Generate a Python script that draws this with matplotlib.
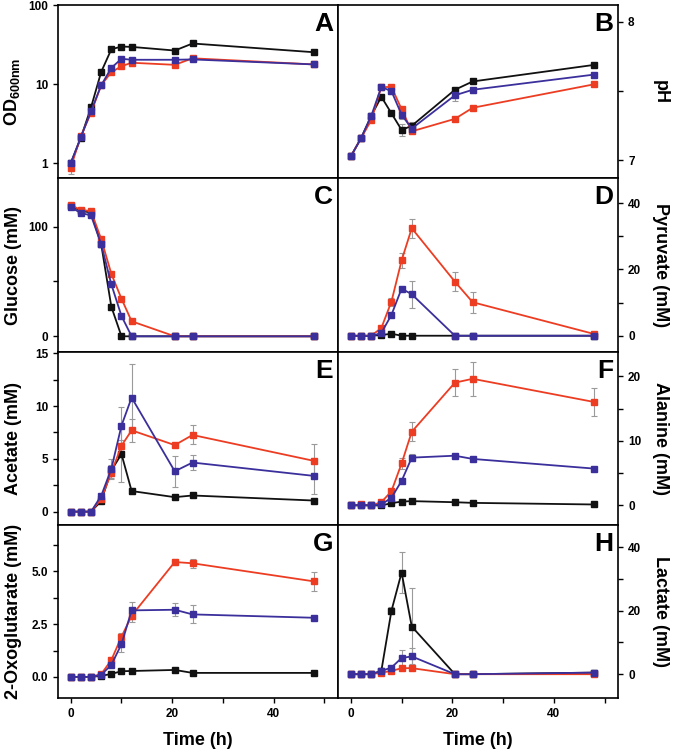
import numpy as np
import matplotlib
matplotlib.use('Agg')
import matplotlib.pyplot as plt
from matplotlib.ticker import NullLocator, FixedLocator

plt.rcParams['font.family'] = ['Liberation Sans', 'DejaVu Sans']
plt.rcParams['font.weight'] = 'bold'
plt.rcParams['axes.labelweight'] = 'bold'
plt.rcParams['mathtext.default'] = 'regular'

# sampling times (h)
time = [0, 2, 4, 6, 8, 10, 12, 20.5, 24, 48]

# A - OD600
od_black = [1.0, 2.1, 5.1, 14.3, 27.7, 30.0, 29.7, 26.7, 32.8, 25.4]
od_red = [0.88, 2.2, 4.35, 9.7, 14.2, 16.9, 18.7, 17.6, 21.3, 17.8]
od_blue = [1.0, 2.14, 4.56, 9.7, 16.1, 21.0, 20.4, 20.4, 20.6, 17.8]
od_err_red = [0.15, 0.1, 0.2, 0.5, 0.8, 0.8, 1.5, 0.8, 0.8, 0.5]

# B - pH
ph_black = [7.03, 7.16, 7.32, 7.46, 7.34, 7.22, 7.25, 7.51, 7.57, 7.69]
ph_red = [7.03, 7.16, 7.29, 7.53, 7.53, 7.37, 7.21, 7.30, 7.38, 7.55]
ph_blue = [7.03, 7.16, 7.32, 7.53, 7.50, 7.33, 7.23, 7.47, 7.51, 7.62]
ph_err_black = [0, 0, 0, 0, 0, 0.04, 0.03, 0, 0, 0]
ph_err_blue = [0, 0, 0, 0, 0.02, 0.03, 0.02, 0.04, 0.02, 0]

# C - glucose
glc_black = [118.8, 114.6, 112.8, 84.0, 27.0, 0, 0, 0, 0, 0]
glc_red = [119.8, 115.2, 114.3, 88.7, 57.0, 34.3, 13.7, 0, 0, 0]
glc_blue = [117.6, 112.5, 110.3, 84.0, 47.4, 18.5, 0, 0, 0, 0]

# D - pyruvate
pyr_black = [0, 0, 0, 0.2, 0.6, 0, 0, 0, 0, 0]
pyr_red = [0, 0, 0, 2.3, 10.3, 22.7, 32.4, 16.3, 10.1, 0.5]
pyr_blue = [0, -0.1, -0.1, 0.8, 6.3, 14.2, 12.5, 0, 0, 0]
pyr_err_red = [0, 0, 0, 0.3, 1.2, 2.2, 2.8, 2.9, 3.1, 0]
pyr_err_blue = [0, 0, 0, 0, 0.6, 0.6, 4.0, 0, 0, 0]

# E - acetate
ace_black = [0, 0, 0, 1.0, 3.9, 5.45, 1.95, 1.37, 1.53, 1.05]
ace_red = [0, 0, 0, 1.2, 3.7, 6.24, 7.7, 6.3, 7.26, 4.8]
ace_blue = [0, 0, 0, 1.5, 4.05, 8.15, 10.8, 3.82, 4.65, 3.38]
ace_err_black = [0, 0, 0, 0.1, 0.5, 2.6, 0.3, 0.1, 0.1, 0.1]
ace_err_red = [0, 0, 0, 0.1, 0.6, 0.5, 1.1, 0.2, 0.9, 1.6]
ace_err_blue = [0, 0, 0, 0.2, 0.9, 1.75, 3.2, 1.45, 0.7, 1.7]

# F - alanine
ala_black = [0, 0, 0, 0, 0.35, 0.6, 0.67, 0.5, 0.4, 0.15]
ala_red = [0, 0.15, 0, 0.5, 2.2, 6.5, 11.4, 19.0, 19.6, 16.0]
ala_blue = [0, 0.1, 0, 0.15, 1.2, 3.8, 7.4, 7.7, 7.2, 5.7]
ala_err_red = [0, 0, 0, 0.2, 0.3, 0.9, 1.5, 2.1, 2.6, 2.1]
ala_err_blue = [0, 0, 0, 0, 0.3, 0.4, 0.5, 0.2, 0.2, 0.2]

# G - 2-oxoglutarate
oxo_black = [0, 0, 0, 0.05, 0.14, 0.27, 0.28, 0.33, 0.19, 0.19]
oxo_red = [0, 0, 0, 0.13, 0.8, 1.9, 2.9, 5.44, 5.38, 4.52]
oxo_blue = [0, 0, 0, 0.1, 0.57, 1.55, 3.15, 3.18, 2.96, 2.8]
oxo_err_red = [0, 0, 0, 0.03, 0.15, 0.2, 0.3, 0.15, 0.2, 0.47]
oxo_err_blue = [0, 0, 0, 0.03, 0.1, 0.35, 0.4, 0.3, 0.43, 0.1]

# H - lactate
lac_black = [0, 0, 0, 1.0, 20.0, 32.0, 15.0, 0, 0, 0.5]
lac_red = [0, 0, 0, 0.5, 1.0, 1.9, 1.9, 0, 0, 0]
lac_blue = [0, 0, 0, 1.0, 2.1, 5.1, 5.6, 0, 0, 0.5]
lac_err_black = [0, 0, 0, 0.3, 1.0, 6.5, 12.0, 0, 0, 0]
lac_err_blue = [0, 0, 0, 0, 0.5, 2.5, 2.5, 0, 0, 0]

c_black = '#111111'
c_red = '#ec3d23'
c_blue = '#3b2f9c'
c_err = '#9a9a9a'

zero = [0] * len(time)

panels = [
    # (row, col, letter, ylabel, black, red, blue, err black, err red, err blue, ylim, major, minor)
    (0, 0, 'A', r'OD$_{600nm}$', od_black, od_red, od_blue, zero, od_err_red, zero,
     (0.64, 100), [1, 10, 100], []),
    (0, 1, 'B', 'pH', ph_black, ph_red, ph_blue, ph_err_black, zero, ph_err_blue,
     (6.87, 8.12), [7, 8], [7.5]),
    (1, 0, 'C', 'Glucose (mM)', glc_black, glc_red, glc_blue, zero, zero, zero,
     (-14, 144), [0, 100], [50]),
    (1, 1, 'D', 'Pyruvate (mM)', pyr_black, pyr_red, pyr_blue, zero, pyr_err_red, pyr_err_blue,
     (-4.8, 47.4), [0, 20, 40], [10, 30]),
    (2, 0, 'E', 'Acetate (mM)', ace_black, ace_red, ace_blue, ace_err_black, ace_err_red, ace_err_blue,
     (-1.25, 15.15), [0, 5, 10, 15], [2.5, 7.5, 12.5]),
    (2, 1, 'F', 'Alanine (mM)', ala_black, ala_red, ala_blue, zero, ala_err_red, ala_err_blue,
     (-3.0, 23.8), [0, 10, 20], [5, 15]),
    (3, 0, 'G', '2-Oxoglutarate (mM)', oxo_black, oxo_red, oxo_blue, zero, oxo_err_red, oxo_err_blue,
     (-1.0, 7.2), [0, 2.5, 5.0], [1.25, 3.75, 6.25]),
    (3, 1, 'H', 'Lactate (mM)', lac_black, lac_red, lac_blue, lac_err_black, zero, lac_err_blue,
     (-7.5, 47), [0, 20, 40], [10, 30]),
]

fig, axes = plt.subplots(4, 2, figsize=(6.75, 7.53), dpi=100, sharex=True)
plt.subplots_adjust(left=0.086, right=0.916, top=0.993, bottom=0.073, hspace=0, wspace=0)

for row, col, letter, ylabel, yb, yr, yu, eb, er, eu, ylim, major, minor in panels:
    ax = axes[row, col]
    if letter == 'A':
        ax.set_yscale('log')
    # error bars first, then lines with square markers
    for y, e in [(yb, eb), (yr, er), (yu, eu)]:
        ax.errorbar(time, y, yerr=e, fmt='none', ecolor=c_err, elinewidth=0.8,
                    capsize=2, capthick=0.8, zorder=1)
    for y, c in [(yb, c_black), (yr, c_red), (yu, c_blue)]:
        ax.plot(time, y, '-s', color=c, lw=1.3, ms=5, mec=c, zorder=2)

    ax.set_xlim(-2.5, 52.7)
    ax.set_ylim(*ylim)
    ax.xaxis.set_major_locator(FixedLocator([0, 20, 40]))
    ax.xaxis.set_minor_locator(FixedLocator([10, 30, 50]))
    ax.yaxis.set_major_locator(FixedLocator(major))
    if minor:
        ax.yaxis.set_minor_locator(FixedLocator(minor))
    else:
        ax.yaxis.set_minor_locator(NullLocator())
    if letter == 'A':
        ax.set_yticklabels(['1', '10', '100'])
    if letter == 'G':
        ax.set_yticklabels(['0.0', '2.5', '5.0'])

    ax.tick_params(which='both', direction='out', length=3.5, width=1, labelsize=8.5,
                   top=False, bottom=True)
    if col == 0:
        ax.tick_params(axis='y', which='both', left=True, right=False)
        ax.set_ylabel(ylabel, fontsize=13)
        ax.yaxis.set_label_coords(-0.13, 0.5)
    else:
        ax.yaxis.tick_right()
        ax.tick_params(axis='y', which='both', left=False, right=True)
        ax.yaxis.set_label_position('right')
        ax.set_ylabel(ylabel, fontsize=13, rotation=-90, va='center')
        ax.yaxis.set_label_coords(1.15, 0.5)
    for s in ax.spines.values():
        s.set_linewidth(1.2)
    ax.text(0.982, 0.96, letter, transform=ax.transAxes, ha='right', va='top',
            fontsize=19, fontweight='bold')

for ax in axes[3]:
    ax.set_xlabel('Time (h)', fontsize=13, labelpad=9)

plt.savefig('out.png', dpi=100)
